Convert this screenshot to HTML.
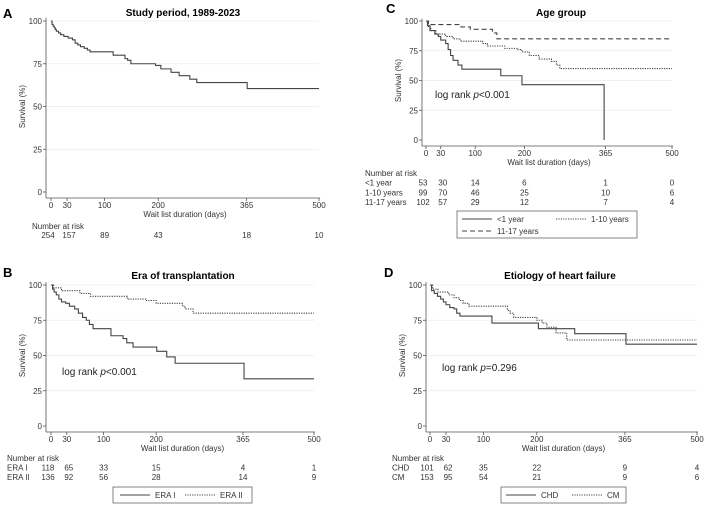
<!DOCTYPE html>
<html><head><meta charset="utf-8"><style>
body{margin:0;background:#fff;}
svg{display:block;font-family:"Liberation Sans",Arial,sans-serif;}
</style></head><body>
<svg id="fig" width="709" height="508" viewBox="0 0 709 508"></svg>
<script>
// ---- data ----
const xTicks=[0,30,100,200,365,500];
const yTicks=[0,25,50,75,100];
const seriesA=[[0,100],[2,98],[4,97],[6,96],[8,95],[10,94],[14,93],[18,92],[24,91],[32,90],[40,89],[45,87],[50,86],[55,85],[62,84],[68,83],[73,82],[116,80],[138,78],[143,77],[149,75],[195,74],[205,72],[224,70],[239,68],[259,66],[272,64],[366,60.5]];
const seriesBera1=[[0,100],[3,97],[6,95],[10,93],[15,90],[20,88],[28,87],[35,85],[45,83],[52,80],[60,77],[67,75],[73,72],[80,69],[114,64],[137,62],[144,59],[156,56],[201,53],[220,49],[236,44.5],[367,33.5]];
const seriesBera2=[[0,100],[5,98],[20,96],[55,94],[75,92],[145,90],[180,89],[200,87],[250,85],[255,83],[270,80]];
const seriesCinf=[[0,100],[3,96],[8,92],[18,89],[25,87],[30,84],[40,81],[45,76],[50,71],[55,67],[65,63],[73,59.5],[152,54],[195,46.5],[362,0]];
const seriesCkid=[[0,100],[5,95],[10,92],[20,89],[40,87],[55,85],[70,83],[115,81],[125,79],[160,77],[185,76],[195,74],[210,71],[230,68],[255,66],[265,63],[272,60]];
const seriesCteen=[[0,100],[5,97],[71,95],[90,93],[135,90],[144,85]];
const seriesDchd=[[0,100],[3,96],[8,94],[14,92],[20,90],[25,88],[30,86],[37,84],[45,83],[50,80],[56,78],[116,73],[203,69],[271,65.5],[367,58]];
const seriesDcm=[[0,100],[5,97],[15,95],[35,93],[45,91],[55,89],[62,87],[73,85],[145,82],[150,80],[157,77],[200,75],[210,73],[219,70],[236,66],[256,61]];
const riskA=[["",[254,157,89,43,18,10]]];
const riskB=[["ERA I",[118,65,33,15,4,1]],["ERA II",[136,92,56,28,14,9]]];
const riskC=[["<1 year",[53,30,14,6,1,0]],["1-10 years",[99,70,46,25,10,6]],["11-17 years",[102,57,29,12,7,4]]];
const riskD=[["CHD",[101,62,35,22,9,4]],["CM",[153,95,54,21,9,6]]];

const NS="http://www.w3.org/2000/svg";
const svg=document.getElementById('fig');
function mk(tag,attrs,parent,text){const e=document.createElementNS(NS,tag);for(const k in attrs)e.setAttribute(k,attrs[k]);if(text!==undefined)e.textContent=text;(parent||svg).appendChild(e);return e;}
const dashes={solid:"",dot:"1.2,1.2",dash:"5,3"};

function panel(p){
  const g=mk('g',{});
  
  
  const X=v=>p.x0+(p.x1-p.x0)*v/500, Y=v=>p.y0+(p.y100-p.y0)*v/100;
  let t=mk('text',{x:p.lx,y:p.ly,'font-size':13,'font-weight':'bold'},g,p.id);
  
  t=mk('text',{x:p.tx,y:p.ty,'font-size':10,'font-weight':'bold','text-anchor':'middle'},g,p.title);
  
  yTicks.forEach(v=>{
    if(v>0){const l=mk('line',{x1:p.ax,x2:X(500),y1:Y(v),y2:Y(v),stroke:'#e6eef0','stroke-width':0.8},g);
      }
    mk('line',{x1:p.ax-3,x2:p.ax,y1:Y(v),y2:Y(v),stroke:'#555','stroke-width':0.8},g);
    const tt=mk('text',{x:p.ax-4,y:Y(v)+3,'font-size':8,'text-anchor':'end',fill:'#333'},g,v);
    
  });
  mk('line',{x1:p.ax,x2:p.ax,y1:Y(102),y2:p.axy,stroke:'#555','stroke-width':0.8},g);
  mk('line',{x1:p.ax,x2:X(502),y1:p.axy,y2:p.axy,stroke:'#555','stroke-width':0.8},g);
  xTicks.forEach(v=>{
    mk('line',{x1:X(v),x2:X(v),y1:p.axy,y2:p.axy+3,stroke:'#555','stroke-width':0.8},g);
    const tt=mk('text',{x:X(v),y:p.axy+10,'font-size':8,'text-anchor':'middle',fill:'#333'},g,v);
    
  });
  t=mk('text',{x:(X(0)+X(500))/2,y:p.axy+19,'font-size':8,'text-anchor':'middle',fill:'#333'},g,'Wait list duration (days)');
  
  t=mk('text',{x:0,y:0,'font-size':8,'text-anchor':'middle',fill:'#333',transform:`translate(${p.ax-21},${(Y(0)+Y(100))/2}) rotate(-90)`},g,'Survival (%)');
  
  p.series.forEach(s=>{
    const pts=s.data;let d=`M${X(pts[0][0])},${Y(pts[0][1])}`;
    for(let i=1;i<pts.length;i++){d+=` H${X(pts[i][0])} V${Y(pts[i][1])}`;}
    if(s.extend)d+=` H${X(500)}`;
    const path=mk('path',{d:d,fill:'none',stroke:'#444','stroke-width':1.1,'stroke-dasharray':dashes[s.style]},g);
    
  });
  if(p.logrank){t=mk('text',{x:p.logrank[0],y:p.logrank[1],'font-size':10,fill:'#222'},g);
    
    mk('tspan',{},t,'log rank ');mk('tspan',{'font-style':'italic'},t,'p');mk('tspan',{},t,p.logrank[2]);}
  t=mk('text',{x:p.nx,y:p.ny,'font-size':8,fill:'#333'},g,'Number at risk');
  
  p.risk.forEach((r,i)=>{
    const yy=p.ny+p.rdy*(i+1);
    if(r[0]){const l=mk('text',{x:p.nx,y:yy,'font-size':8,fill:'#333'},g,r[0]);
      }
    r[1].forEach((n,j)=>{let xx=X(xTicks[j]);if(j===0)xx-=3;if(j===1)xx+=2;
      const c=mk('text',{x:xx,y:yy,'font-size':8,'text-anchor':'middle',fill:'#333'},g,n);
      });
  });
  if(p.legend){const L=p.legend;
    const r=mk('rect',{x:L.x,y:L.y,width:L.w,height:L.h,fill:'#fff',stroke:'#666','stroke-width':0.8},g);
    
    L.items.forEach(it=>{
      const ln=mk('line',{x1:it[0],x2:it[0]+30,y1:it[1]-3,y2:it[1]-3,stroke:'#444','stroke-width':1,'stroke-dasharray':dashes[it[3]]},g);
      
      const tx=mk('text',{x:it[0]+35,y:it[1],'font-size':8,fill:'#333'},g,it[2]);
      
    });}
}

panel({id:'A',title:'Study period, 1989-2023',lx:3,ly:18,tx:183,ty:16,x0:51,x1:319,y0:192,y100:21,ax:46,axy:198,
  series:[{name:'overall',data:seriesA,style:'solid',extend:true}],nx:32,ny:229,rdy:9,risk:riskA});
panel({id:'B',title:'Era of transplantation',lx:3,ly:277,tx:183,ty:279,x0:51,x1:314,y0:426,y100:285,ax:46,axy:432,
  series:[{name:'era-1',data:seriesBera1,style:'solid',extend:true},{name:'era-2',data:seriesBera2,style:'dot',extend:true}],
  logrank:[62,375,'<0.001'],nx:7,ny:461,rdy:9.5,risk:riskB,
  legend:{x:113,y:487,w:139,h:16,items:[[120,498,'ERA I','solid'],[185,498,'ERA II','dot']]}});
panel({id:'C',title:'Age group',lx:386,ly:13,tx:561,ty:16,x0:426,x1:672,y0:140,y100:21,ax:422,axy:146,
  series:[{name:'under-1-year',data:seriesCinf,style:'solid',extend:false},{name:'1-10-years',data:seriesCkid,style:'dot',extend:true},{name:'11-17-years',data:seriesCteen,style:'dash',extend:true}],
  logrank:[435,98,'<0.001'],nx:365,ny:176,rdy:9.7,risk:riskC,
  legend:{x:457,y:211,w:180,h:27,items:[[462,222,'<1 year','solid'],[556,222,'1-10 years','dot'],[462,234,'11-17 years','dash']]}});
panel({id:'D',title:'Etiology of heart failure',lx:384,ly:277,tx:560,ty:279,x0:430,x1:697,y0:426,y100:285,ax:426,axy:432,
  series:[{name:'chd',data:seriesDchd,style:'solid',extend:true},{name:'cm',data:seriesDcm,style:'dot',extend:true}],
  logrank:[442,371,'=0.296'],nx:392,ny:461,rdy:9.5,risk:riskD,
  legend:{x:501,y:487,w:125,h:16,items:[[506,498,'CHD','solid'],[572,498,'CM','dot']]}});
</script>
</body></html>
